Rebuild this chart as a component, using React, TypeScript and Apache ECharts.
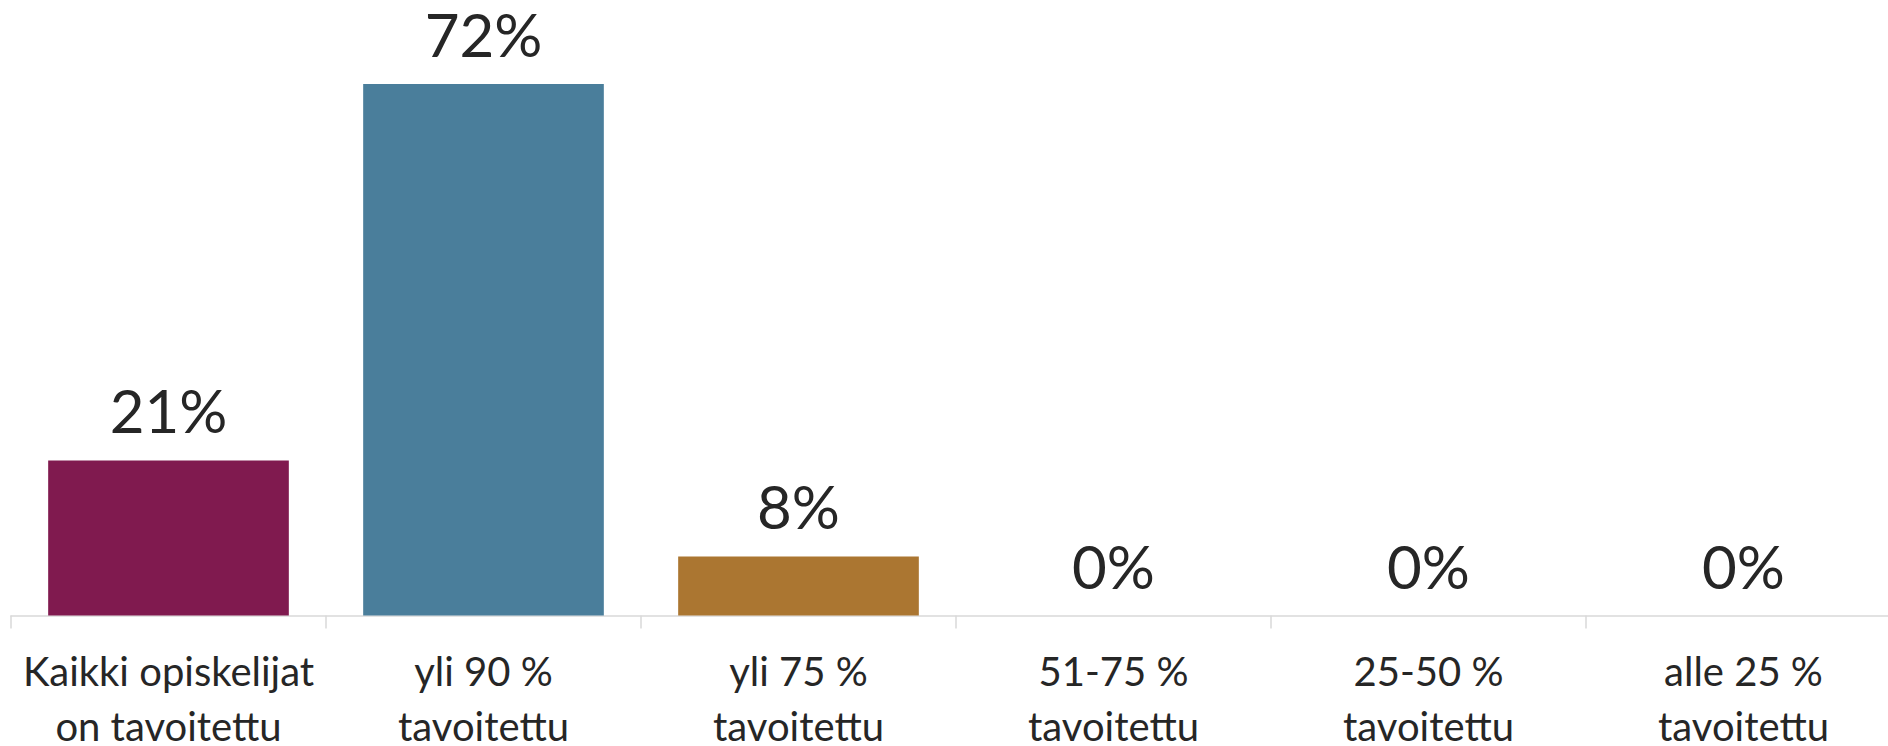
import React, { useEffect, useRef } from "react";
import * as echarts from "echarts";

const categories = [
  "Kaikki opiskelijat\non tavoitettu",
  "yli 90 %\ntavoitettu",
  "yli 75 %\ntavoitettu",
  "51-75 %\ntavoitettu",
  "25-50 %\ntavoitettu",
  "alle 25 %\ntavoitettu",
];
const values = [21, 72, 8, 0, 0, 0];
const barColors = ["#801a4f", "#4a7e9b", "#ab7631", "#7f7f7f", "#7f7f7f", "#7f7f7f"];

const FONT = "Lato, 'Source Sans Pro', Roboto, sans-serif";

export default function App() {
  const ref = useRef<HTMLDivElement>(null);
  useEffect(() => {
    if (!ref.current) return;
    const chart = echarts.init(ref.current, undefined, { renderer: "svg" });
    chart.setOption({
      animation: false,
      backgroundColor: "#ffffff",
      grid: {
        left: 3,
        right: 0,
        top: 17,
        bottom: 130.5,
        containLabel: false,
        outerBoundsMode: "none",
      },
      xAxis: {
        type: "category",
        data: categories,
        axisLine: { show: true, lineStyle: { color: "#d9d9d9", width: 1.5 } },
        axisTick: { show: true, length: 13, lineStyle: { color: "#d9d9d9", width: 1.5 } },
        axisLabel: {
          color: "#262626",
          fontFamily: FONT,
          fontSize: 40,
          lineHeight: 55,
          margin: 28,
          interval: 0,
        },
      },
      yAxis: {
        type: "value",
        min: 0,
        max: 80,
        show: false,
        splitLine: { show: false },
      },
      series: [
        {
          type: "bar",
          barWidth: "76.4%",
          data: values.map((v, i) => ({ value: v, itemStyle: { color: barColors[i] } })),
          label: {
            show: true,
            position: "top",
            distance: 20,
            formatter: "{c}%",
            color: "#262626",
            fontFamily: FONT,
            fontSize: 60,
          },
        },
      ],
    });
    return () => chart.dispose();
  }, []);
  return (
    <div
      ref={ref}
      style={{ position: "fixed", left: 8, top: 8, width: 1893, height: 738 }}
    />
  );
}
